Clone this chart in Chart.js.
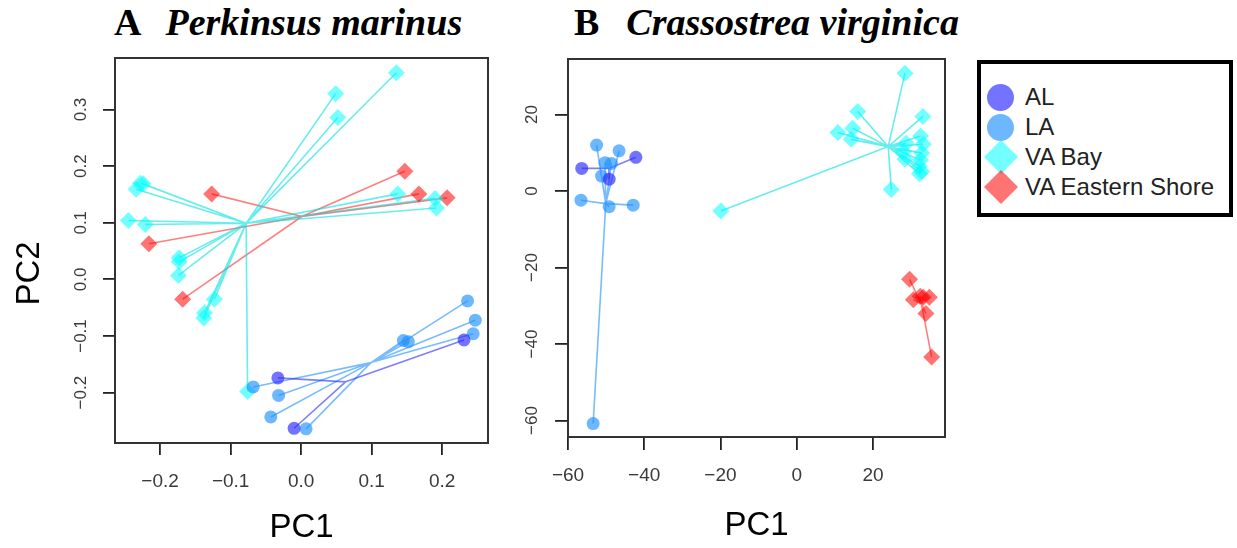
<!DOCTYPE html>
<html>
<head>
<meta charset="utf-8">
<script src="https://cdn.jsdelivr.net/npm/chart.js@4/dist/chart.umd.min.js"></script>
<style>
  body { margin: 0; background: #fff; width: 1237px; height: 548px; position: relative; overflow: hidden; }
  .title { position: absolute; top: 0; font-family: "Liberation Serif", serif; font-weight: bold; font-size: 38px; line-height: 44px; white-space: nowrap; color: #000; }
  #chartA { position: absolute; left: 0; top: 0; }
  #chartB { position: absolute; left: 500px; top: 0; }
  #legend { position: absolute; left: 977px; top: 60px; width: 256px; height: 157px; box-sizing: border-box;
            border: 4px solid #000; padding-top: 18px; font-family: "Liberation Sans", Arial, sans-serif; font-size: 24px; color: #222; }
  .row { position: relative; height: 30px; line-height: 30px; padding-left: 44px; }
  .mk { position: absolute; top: 50%; }
  .circle { width: 27px; height: 27px; border-radius: 50%; left: 6px; margin-top: -13.5px; }
  .diamond { width: 24px; height: 24px; left: 8px; margin-top: -12px; transform: rotate(45deg); }
</style>
</head>
<body>
<div class="title" style="left:114px">A<i style="margin-left:24px">Perkinsus marinus</i></div>
<div class="title" style="left:574px">B<i style="margin-left:27px">Crassostrea virginica</i></div>
<canvas id="chartA" width="500" height="548"></canvas>
<canvas id="chartB" width="470" height="548"></canvas>
<div id="legend"></div>
<script>
// group names and colours
const groups = ["AL", "LA", "VA Bay", "VA Eastern Shore"];

// Panel A, Perkinsus marinus
const aAlX = [-0.033, -0.010, 0.231];
const aAlY = [-0.174, -0.263, -0.107];
const aAlCentre = [0.063, -0.181];
const aLaX = [0.236, 0.247, 0.244, 0.145, 0.152, -0.068, -0.032, -0.043, 0.007];
const aLaY = [-0.038, -0.072, -0.096, -0.108, -0.110, -0.190, -0.205, -0.243, -0.264];
const aLaCentre = [0.099, -0.147];
const aBayX = [0.135, 0.049, 0.052, 0.137, 0.190, 0.192, -0.228, -0.224, -0.234, -0.245, -0.221, -0.173, -0.173, -0.174, -0.123, -0.137, -0.138, -0.076];
const aBayY = [0.365, 0.328, 0.286, 0.151, 0.143, 0.126, 0.170, 0.169, 0.159, 0.104, 0.097, 0.038, 0.031, 0.007, -0.035, -0.059, -0.068, -0.198];
const aBayCentre = [-0.078, 0.099];
const aEsX = [-0.127, -0.216, -0.168, 0.147, 0.167, 0.207];
const aEsY = [0.151, 0.063, -0.035, 0.191, 0.151, 0.144];
const aEsCentre = [0.001, 0.111];
const aXTicks = [-0.2, -0.1, 0.0, 0.1, 0.2];
const aYTicks = [-0.2, -0.1, 0.0, 0.1, 0.2, 0.3];

// Panel B, Crassostrea virginica
const bAlX = [-56.4, -42.2, -49.2];
const bAlY = [5.9, 8.8, 3.1];
const bAlCentre = [-49.3, 5.9];
const bLaX = [-52.5, -46.6, -50.3, -48.6, -51.2, -56.6, -49.2, -42.9, -53.4];
const bLaY = [12.0, 10.5, 7.4, 7.2, 3.9, -2.4, -4.1, -3.7, -60.8];
const bLaCentre = [-50.1, -3.3];
const bBayX = [28.4, 16.0, 33.1, 10.8, 14.7, 14.3, 28.7, 32.5, 33.2, 28.0, 32.8, 28.4, 32.5, 32.2, 32.2, 32.8, 24.8, -19.9];
const bBayY = [30.8, 20.8, 19.5, 15.3, 16.4, 13.5, 12.5, 14.4, 12.2, 10.3, 9.9, 8.3, 8.1, 6.4, 4.5, 5.1, 0.4, -5.2];
const bBayCentre = [24.0, 11.6];
const bEsX = [29.6, 30.6, 32.4, 33.2, 34.8, 33.9, 35.4];
const bEsY = [-23.1, -28.4, -27.5, -27.8, -27.8, -32.0, -43.4];
const bEsCentre = [32.7, -29.5];
const bXTicks = [-60, -40, -20, 0, 20];
const bYTicks = [-60, -40, -20, 0, 20];

const styles = {
  "AL":               { fill: "rgba(40,40,255,0.65)",  line: "rgba(40,40,255,0.6)",   shape: "circle",  r: 6.5 },
  "LA":               { fill: "rgba(30,144,255,0.65)", line: "rgba(30,144,255,0.6)",  shape: "circle",  r: 6.5 },
  "VA Bay":           { fill: "rgba(0,255,255,0.55)",  line: "rgba(0,225,225,0.6)",   shape: "rectRot", r: 8.5 },
  "VA Eastern Shore": { fill: "rgba(255,0,0,0.55)",    line: "rgba(255,0,0,0.5)",     shape: "rectRot", r: 8.5 }
};

// one dataset for the points, one for the spider lines to the centroid
function group(name, xs, ys, centre) {
  const s = styles[name];
  const pts = xs.map((x, i) => ({ x: x, y: ys[i] }));
  const spokes = [];
  pts.forEach(p => {
    spokes.push(p, { x: centre[0], y: centre[1] }, { x: centre[0], y: null });
  });
  return [
    { label: name, data: pts, pointStyle: s.shape, pointRadius: s.r, backgroundColor: s.fill,
      borderWidth: 0, order: 1 },
    { label: name + " spider", data: spokes, showLine: true, pointRadius: 0, borderColor: s.line,
      borderWidth: 1.6, spanGaps: false, order: 2 }
  ];
}

const boxPlugin = {
  id: "box",
  afterDraw(chart) {
    const { ctx, chartArea: a } = chart;
    ctx.save();
    ctx.strokeStyle = "#333";
    ctx.lineWidth = 2;
    ctx.strokeRect(a.left, a.top, a.right - a.left, a.bottom - a.top);
    ctx.restore();
  }
};

const minus = v => String(v).replace("-", "\u2212");

function options(p) {
  return {
    responsive: false,
    animation: false,
    layout: { padding: { left: 0, top: p.top, right: p.right, bottom: 0 } },
    plugins: { legend: { display: false }, tooltip: { enabled: false } },
    scales: {
      x: {
        type: "linear", min: p.xMin, max: p.xMax,
        afterBuildTicks: s => { s.ticks = p.xTicks.map(v => ({ value: v })); },
        afterFit: s => { s.height = p.xHeight; s.paddingLeft = 0; s.paddingRight = 0; },
        grid: { drawOnChartArea: false, drawTicks: true, tickLength: p.tick, color: "#222", lineWidth: 1.8 },
        border: { display: false },
        ticks: { color: "#3a3a3a", font: { family: "Liberation Sans", size: 19 }, padding: p.xPad,
                 maxRotation: 0, autoSkip: false, callback: v => minus(p.fmt(v)) },
        title: { display: true, text: "PC1", color: "#000", font: { family: "Liberation Sans", size: 33, lineHeight: 1 },
                 padding: { top: 0, bottom: p.x1Pad } }
      },
      y: {
        type: "linear", min: p.yMin, max: p.yMax,
        afterBuildTicks: s => { s.ticks = p.yTicks.map(v => ({ value: v })); },
        afterFit: s => { s.width = p.yWidth; s.paddingTop = 0; s.paddingBottom = 0; },
        grid: { drawOnChartArea: false, drawTicks: true, tickLength: p.tick, color: "#222", lineWidth: 1.8 },
        border: { display: false },
        ticks: { color: "#3a3a3a", font: { family: "Liberation Sans", size: p.ySize }, padding: p.yPad,
                 minRotation: 90, maxRotation: 90, crossAlign: "center", autoSkip: false,
                 callback: v => minus(p.fmt(v)) },
        title: { display: !!p.yTitle, text: p.yTitle || "", color: "#000",
                 font: { family: "Liberation Sans", size: 33 }, padding: { top: 10, bottom: 0 } }
      }
    }
  };
}

new Chart(document.getElementById("chartA"), {
  type: "scatter",
  data: { datasets: [].concat(
    group("AL", aAlX, aAlY, aAlCentre),
    group("LA", aLaX, aLaY, aLaCentre),
    group("VA Bay", aBayX, aBayY, aBayCentre),
    group("VA Eastern Shore", aEsX, aEsY, aEsCentre)) },
  options: options({ top: 58, right: 12, xHeight: 105, yWidth: 115, tick: 12, xPad: 15, x1Pad: 4, yPad: 5, ySize: 17,
    xMin: -0.264, xMax: 0.265, yMin: -0.289, yMax: 0.391, xTicks: aXTicks, yTicks: aYTicks,
    fmt: v => v.toFixed(1), yTitle: "PC2     " }),
  plugins: [boxPlugin]
});

new Chart(document.getElementById("chartB"), {
  type: "scatter",
  data: { datasets: [].concat(
    group("AL", bAlX, bAlY, bAlCentre),
    group("LA", bLaX, bLaY, bLaCentre),
    group("VA Bay", bBayX, bBayY, bBayCentre),
    group("VA Eastern Shore", bEsX, bEsY, bEsCentre)) },
  options: options({ top: 59, right: 25, xHeight: 111, yWidth: 68, tick: 13, xPad: 14, x1Pad: 6, yPad: 8, ySize: 17,
    xMin: -60, xMax: 38.9, yMin: -64.3, yMax: 34.5, xTicks: bXTicks, yTicks: bYTicks,
    fmt: v => String(v), yTitle: null }),
  plugins: [boxPlugin]
});

// legend
const legend = document.getElementById("legend");
groups.forEach(g => {
  const s = styles[g];
  const row = document.createElement("div");
  row.className = "row";
  const mk = document.createElement("span");
  mk.className = "mk " + (s.shape === "circle" ? "circle" : "diamond");
  mk.style.background = s.fill;
  row.appendChild(mk);
  row.appendChild(document.createTextNode(g));
  legend.appendChild(row);
});
</script>
</body>
</html>
